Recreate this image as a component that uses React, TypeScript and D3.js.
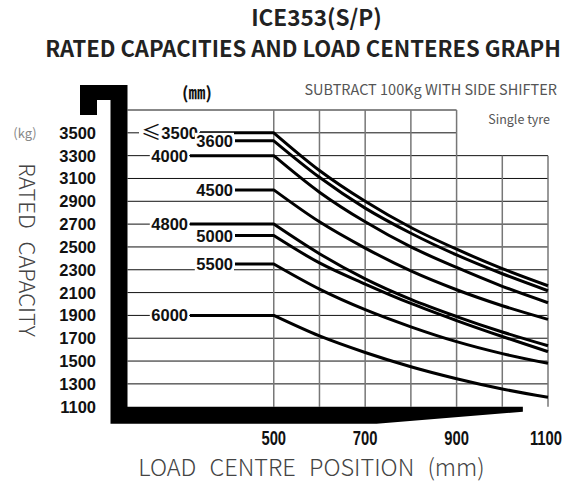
import React from 'react'
import * as d3 from 'd3'

// load centre positions (mm) where the curves were read
const loadCentres = [500, 600, 700, 800, 900, 1000, 1100]
const gridCentres = [500, 600, 700, 800, 900, 1000, 1100]
const xTicks = [500, 700, 900, 1100]
const yTicks = [3500, 3300, 3100, 2900, 2700, 2500, 2300, 2100, 1900, 1700, 1500, 1300, 1100]

// lift heights (mm) labelling each curve
const liftHeights = ['≤3500', '3600', '4000', '4500', '4800', '5000', '5500', '6000']

// rated capacity (kg) at each load centre, one array per lift height
const cap3500 = [3500, 3170, 2900, 2670, 2480, 2310, 2160]
const cap3600 = [3430, 3110, 2840, 2620, 2430, 2265, 2116]
const cap4000 = [3300, 2980, 2720, 2500, 2320, 2155, 2011]
const cap4500 = [3000, 2720, 2490, 2290, 2125, 1985, 1865]
const cap4800 = [2700, 2440, 2220, 2040, 1890, 1755, 1634]
const cap5000 = [2600, 2360, 2175, 2005, 1855, 1715, 1582]
const cap5500 = [2350, 2130, 1950, 1800, 1670, 1565, 1480]
const cap6000 = [1900, 1720, 1575, 1450, 1345, 1255, 1182]

const capacities = [cap3500, cap3600, cap4000, cap4500, cap4800, cap5000, cap5500, cap6000]

const W = 566
const H = 488

export default function App() {
    const x = d3.scaleLinear().domain([180, 1100]).range([127.5, 548])
    const y = d3.scaleLinear().domain([1100, 3700]).range([406.7, 110])

    const left = x(180)
    const bottom = y(1100)
    const top = y(3700)

    // label column: right edge of each curve label
    const labelRight = [198, 233, 188, 233, 188, 233, 233, 188]

    const line = d3
        .line<[number, number]>()
        .x(d => x(d[0]))
        .y(d => y(d[1]))
        .curve(d3.curveMonotoneX)

    const numFont = "'Liberation Sans', Arial, sans-serif"
    const cjk = "'Noto Sans CJK SC', 'Noto Sans', sans-serif"

    // fork silhouette
    const t = 17
    const tip = x(1045)
    const taper = x(725)
    const fork = [
        [80, top - 25],
        [left, top - 25],
        [left, bottom],
        [tip, bottom],
        [tip, bottom + 5],
        [taper, bottom + t],
        [left - t, bottom + t],
        [left - t, top - 10],
        [97, top - 10],
        [97, top + 5],
        [80, top + 5],
    ]

    return (
        <svg width={W} height={H} style={{ display: 'block', position: 'absolute', left: 0, top: 0 }}>
            <rect width={W} height={H} fill='white' />
            <g fontFamily={cjk} fill='#222' textAnchor='middle' fontWeight='bold'>
                <text x={316.5} y={26} fontSize={22.5}>
                    ICE353(S/P)
                </text>
                <text x={303} y={57} fontSize={22}>
                    RATED CAPACITIES AND LOAD CENTERES GRAPH
                </text>
            </g>
            <text x={197} y={99} fontFamily={cjk} fontWeight='bold' fontSize={17} textAnchor='middle' fill='#111'>
                (㎜)
            </text>
            <g fontFamily={cjk} fill='#555' textAnchor='end'>
                <text x={557} y={95} fontSize={14.5}>
                    SUBTRACT 100Kg WITH SIDE SHIFTER
                </text>
                <text x={550} y={124} fontSize={12.5}>
                    Single tyre
                </text>
            </g>

            {/* horizontal grid */}
            <g stroke='#111' strokeWidth={1}>
                <line x1={left} x2={x(900)} y1={top} y2={top} />
                {yTicks
                    .filter(v => v > 1100)
                    .map(v => (
                        <line
                            key={v}
                            x1={left}
                            x2={v >= 3500 ? x(900) : x(1100)}
                            y1={y(v)}
                            y2={y(v)}
                        />
                    ))}
            </g>
            {/* vertical grid */}
            <g stroke='#777' strokeWidth={1.5}>
                {gridCentres.map(c => (
                    <line key={c} x1={x(c)} x2={x(c)} y1={c > 900 ? y(3300) : top} y2={bottom} />
                ))}
            </g>

            {/* curves */}
            {capacities.map((vals, i) => {
                const pts = loadCentres.map((c, j) => [c, vals[j]] as [number, number])
                const curve = line(pts) || ''
                const start = labelRight[i] + 2
                const d = `M${start},${y(vals[0])}L` + curve.slice(1)
                const label = liftHeights[i]
                const le = label.startsWith('≤')
                const w = le ? 58 : label.length * 9.3
                return (
                    <g key={label}>
                        <rect x={labelRight[i] - w - 1} y={y(vals[0]) - 8} width={w + 2} height={16} fill='white' />
                        <path d={d} fill='none' stroke='#000' strokeWidth={3} strokeLinejoin='round' />
                        <text
                            x={labelRight[i]}
                            y={y(vals[0]) + 6}
                            textAnchor='end'
                            fontFamily={numFont}
                            fontWeight='bold'
                            fontSize={16.5}
                            fill='#111'
                        >
                            {le ? (
                                <>
                                    <tspan fontFamily={cjk} fontSize={20} fontWeight='normal' dy={1}>
                                        ≤
                                    </tspan>
                                    <tspan dy={-1}>{label.slice(1)}</tspan>
                                </>
                            ) : (
                                label
                            )}
                        </text>
                    </g>
                )
            })}

            {/* fork */}
            <polygon points={fork.map(p => p.join(',')).join(' ')} fill='#000' />

            {/* y tick labels */}
            <g fontFamily={numFont} fontWeight='bold' fontSize={16.5} textAnchor='end' fill='#111'>
                {yTicks.map(v => (
                    <text key={v} x={96} y={y(v) + 6}>
                        {v}
                    </text>
                ))}
            </g>
            {/* x tick labels, narrow */}
            <g fontFamily={numFont} fontWeight='bold' fontSize={20} textAnchor='middle' fill='#111'>
                {xTicks.map(v => (
                    <text key={v} transform={`translate(${v === 1100 ? x(v) - 2 : x(v)},445) scale(0.74,1)`}>
                        {v}
                    </text>
                ))}
            </g>

            <text x={25} y={138} fontFamily={cjk} fontSize={13} fill='#888' textAnchor='middle'>
                (kg)
            </text>
            <text
                transform='translate(19,250) rotate(90)'
                fontFamily={cjk}
                fontSize={22}
                fontWeight={300}
                fill='#444'
                textAnchor='middle'
                wordSpacing={8}
            >
                RATED CAPACITY
            </text>
            <text
                x={311.5}
                y={476}
                fontFamily={cjk}
                fontSize={23.5}
                fontWeight={300}
                fill='#444'
                textAnchor='middle'
                wordSpacing={8}
            >
                LOAD CENTRE POSITION (mm)
            </text>
        </svg>
    )
}
